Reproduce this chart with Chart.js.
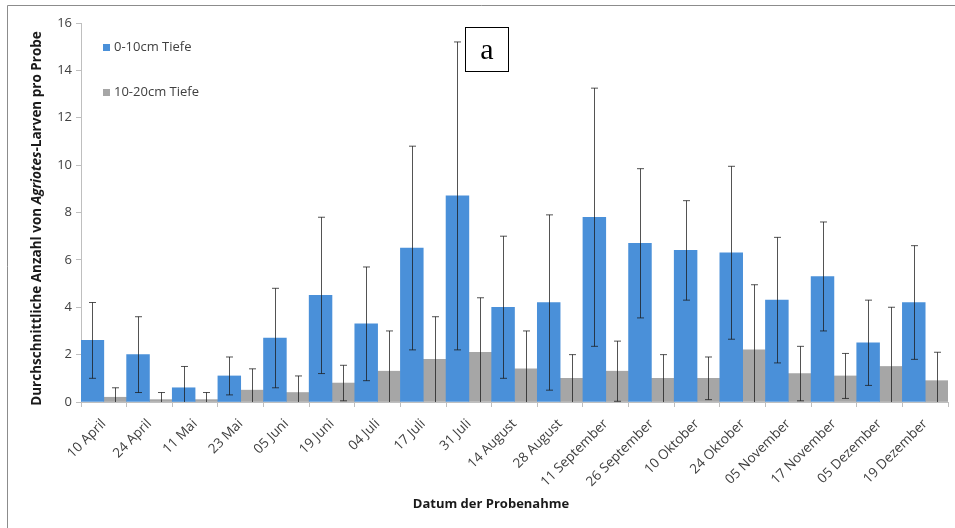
<!DOCTYPE html>
<html>
<head>
<meta charset="utf-8">
<script src="https://cdn.jsdelivr.net/npm/chart.js@4.4.1/dist/chart.umd.min.js"></script>
<style>
  html, body { margin: 0; padding: 0; background: #fff; }
  #wrap { position: relative; width: 955px; height: 528px; }
</style>
</head>
<body>
<div id="wrap"><canvas id="larvenChart" width="955" height="528"></canvas></div>
<script>
// Probenahmetermine
const dates = ['10 April', '24 April', '11 Mai', '23 Mai', '05 Juni', '19 Juni', '04 Juli', '17 Juli',
    '31 Juli', '14 August', '28 August', '11 September', '26 September', '10 Oktober', '24 Oktober',
    '05 November', '17 November', '05 Dezember', '19 Dezember'];

// Mittelwerte und Standardabweichung, 0-10cm
const shallowMean = [2.6, 2.0, 0.6, 1.1, 2.7, 4.5, 3.3, 6.5, 8.7, 4.0, 4.2, 7.8, 6.7, 6.4, 6.3, 4.3, 5.3, 2.5, 4.2];
const shallowSd = [1.6, 1.6, 0.9, 0.8, 2.1, 3.3, 2.4, 4.3, 6.5, 3.0, 3.7, 5.45, 3.15, 2.1, 3.65, 2.65, 2.3, 1.8, 2.4];

// Mittelwerte und Standardabweichung, 10-20cm
const deepMean = [0.2, 0.1, 0.1, 0.5, 0.4, 0.8, 1.3, 1.8, 2.1, 1.4, 1.0, 1.3, 1.0, 1.0, 2.2, 1.2, 1.1, 1.5, 0.9];
const deepSd = [0.4, 0.3, 0.3, 0.9, 0.7, 0.75, 1.7, 1.8, 2.3, 1.6, 1.0, 1.27, 1.0, 0.9, 2.75, 1.15, 0.95, 2.5, 1.2];

const yTicks = [0, 2, 4, 6, 8, 10, 12, 14, 16];

const font = '"Open Sans", Lato, sans-serif';
const textColor = '#404040';
const axisColor = '#bfbfbf';

// Fehlerbalken (Standardabweichung)
const errorBars = {
    id: 'errorBars',
    afterDatasetsDraw(chart) {
        const c = chart.ctx;
        const y = chart.scales.y;
        const sds = [shallowSd, deepSd];
        c.save();
        c.strokeStyle = 'rgba(25,25,25,0.75)';
        c.lineWidth = 1;
        chart.data.datasets.forEach((ds, i) => {
            const meta = chart.getDatasetMeta(i);
            meta.data.forEach((bar, j) => {
                const mean = ds.data[j];
                const sd = sds[i][j];
                const x = Math.round(bar.x) + 0.5;
                const top = y.getPixelForValue(mean + sd);
                const low = mean - sd;
                const bottom = y.getPixelForValue(Math.max(0, low));
                c.beginPath();
                c.moveTo(x, top);
                c.lineTo(x, bottom);
                c.moveTo(x - 3.5, top);
                c.lineTo(x + 3.5, top);
                if (low > 0) {
                    c.moveTo(x - 3.5, bottom);
                    c.lineTo(x + 3.5, bottom);
                }
                c.stroke();
            });
        });
        c.restore();
    }
};

// Rahmen, Legende, Achsentitel, Markierung "a"
const decorations = {
    id: 'decorations',
    afterDraw(chart) {
        const c = chart.ctx;
        const area = chart.chartArea;
        c.save();

        // Rahmen
        c.strokeStyle = '#8c8c8c';
        c.lineWidth = 1;
        c.beginPath();
        c.moveTo(7.5, 528);
        c.lineTo(7.5, 5.5);
        c.lineTo(955, 5.5);
        c.stroke();

        // Legende
        c.font = '13px ' + font;
        c.textBaseline = 'middle';
        c.textAlign = 'left';
        const legendY = [47, 92];
        chart.data.datasets.forEach((ds, i) => {
            c.fillStyle = ds.backgroundColor;
            c.fillRect(103, legendY[i] - 3, 7, 7);
            c.fillStyle = textColor;
            c.fillText(ds.label, 114, legendY[i]);
        });

        // Y-Achsentitel mit kursivem Gattungsnamen
        const size = 'bold 13.5px ';
        const parts = [
            [size + font, 'Durchschnittliche Anzahl von '],
            ['italic ' + size + font, 'Agriotes'],
            [size + font, '-Larven pro Probe']
        ];
        let total = 0;
        parts.forEach(p => { c.font = p[0]; total += c.measureText(p[1]).width; });
        c.translate(37, (area.top + area.bottom) / 2 + 6);
        c.rotate(-Math.PI / 2);
        c.fillStyle = '#1a1a1a';
        let pos = -total / 2;
        parts.forEach(p => {
            c.font = p[0];
            c.fillText(p[1], pos, 0);
            pos += c.measureText(p[1]).width;
        });
        c.setTransform(1, 0, 0, 1, 0, 0);

        // X-Achsentitel
        c.font = 'bold 13px ' + font;
        c.textAlign = 'center';
        c.fillText('Datum der Probenahme', 491, 504);

        // Kasten "a"
        c.fillStyle = '#fff';
        c.fillRect(465.5, 27.5, 43, 44);
        c.strokeStyle = '#000';
        c.strokeRect(465.5, 27.5, 43, 44);
        c.fillStyle = '#000';
        c.font = '30px "Liberation Serif", "DejaVu Serif", serif';
        c.textAlign = 'center';
        c.textBaseline = 'alphabetic';
        c.fillText('a', 487, 59);

        c.restore();
    }
};

const ctx = document.getElementById('larvenChart').getContext('2d');
new Chart(ctx, {
    type: 'bar',
    data: {
        labels: dates,
        datasets: [
            {
                label: '0-10cm Tiefe',
                data: shallowMean,
                backgroundColor: '#4a90d9',
                barPercentage: 1,
                categoryPercentage: 1
            },
            {
                label: '10-20cm Tiefe',
                data: deepMean,
                backgroundColor: '#a6a6a6',
                barPercentage: 1,
                categoryPercentage: 1
            }
        ]
    },
    options: {
        responsive: false,
        animation: false,
        devicePixelRatio: 1,
        layout: { padding: { top: 23, right: 7, left: 0, bottom: 0 } },
        plugins: {
            legend: { display: false },
            tooltip: { enabled: false }
        },
        scales: {
            x: {
                offset: true,
                grid: {
                    offset: true,
                    drawOnChartArea: false,
                    drawTicks: true,
                    tickLength: 5,
                    color: axisColor
                },
                border: { color: axisColor },
                ticks: {
                    minRotation: 45,
                    maxRotation: 45,
                    autoSkip: false,
                    padding: 9,
                    color: textColor,
                    font: { family: font, size: 13.5 }
                },
                afterFit(scale) { scale.height = 126; }
            },
            y: {
                min: 0,
                max: 16,
                grid: {
                    drawOnChartArea: false,
                    drawTicks: true,
                    tickLength: 5,
                    color: axisColor
                },
                border: { color: axisColor },
                afterBuildTicks(scale) { scale.ticks = yTicks.map(v => ({ value: v })); },
                ticks: {
                    padding: 4,
                    color: textColor,
                    font: { family: font, size: 13 }
                },
                afterFit(scale) { scale.width = 81; }
            }
        }
    },
    plugins: [errorBars, decorations]
});
</script>
</body>
</html>
